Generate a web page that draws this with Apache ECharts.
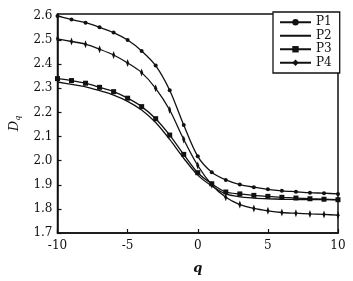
<!DOCTYPE html>
<html><head><meta charset="utf-8">
<script src="https://cdn.jsdelivr.net/npm/echarts@6/dist/echarts.min.js"></script>
<style>html,body{margin:0;padding:0;background:#fff}#c{width:353px;height:281px}</style>
</head><body><div id="c"></div>
<script>
const qValues = [-10,-9,-8,-7,-6,-5,-4,-3,-2,-1,0,1,2,3,4,5,6,7,8,9,10];
const P1 = [2.600,2.585,2.572,2.553,2.531,2.500,2.455,2.394,2.292,2.148,2.018,1.952,1.920,1.901,1.890,1.881,1.875,1.871,1.867,1.865,1.862];
const P2 = [2.326,2.316,2.306,2.290,2.272,2.246,2.210,2.158,2.088,2.010,1.940,1.895,1.862,1.850,1.845,1.842,1.840,1.839,1.838,1.838,1.837];
const P3 = [2.340,2.332,2.321,2.304,2.286,2.259,2.224,2.174,2.106,2.026,1.950,1.904,1.870,1.862,1.856,1.852,1.848,1.845,1.842,1.840,1.838];
const P4 = [2.505,2.494,2.483,2.462,2.438,2.405,2.365,2.300,2.210,2.088,1.980,1.900,1.848,1.818,1.802,1.792,1.785,1.782,1.779,1.777,1.774];
const seriesNames = ['P1','P2','P3','P4'];
const xTicks = [-10,-5,0,5,10];

const FONT = 'DejaVu Serif';
const pairs = arr => qValues.map((q,i)=>[q,arr[i]]);
const base = {type:'line', smooth:0.3, lineStyle:{color:'#111', width:1.3}, itemStyle:{color:'#111'}};
const chart = echarts.init(document.getElementById('c'), null, {renderer:'canvas'});
chart.setOption({
  animation:false,
  backgroundColor:'#fff',
  grid:{left:57, right:15, top:14, bottom:48, show:true, borderColor:'#111', borderWidth:1.5, backgroundColor:'transparent'},
  legend:{
    left:273, top:12, orient:'vertical',
    padding:[3.5,8,3.5,6], itemGap:0, itemWidth:31, itemHeight:8,
    borderColor:'#111', borderWidth:1.3, backgroundColor:'#fff',
    textStyle:{fontFamily:FONT, fontSize:12, color:'#111', lineHeight:13.5},
    data:seriesNames.map(n => n === 'P2' ? {name:n, itemStyle:{color:'transparent', borderWidth:0, opacity:0}} : {name:n})
  },
  xAxis:{
    type:'value', min:-10, max:10, interval:5,
    name:'q', nameLocation:'middle', nameGap:29,
    nameTextStyle:{fontFamily:FONT, fontSize:13, fontStyle:'italic', fontWeight:'bold', color:'#111'},
    axisLine:{onZero:false, lineStyle:{color:'#111', width:1.5}},
    axisTick:{inside:true, length:4, lineStyle:{color:'#111', width:1.2}},
    axisLabel:{fontFamily:FONT, fontSize:12, color:'#111', margin:7, formatter:v=>xTicks.includes(v)?String(v):''},
    splitLine:{show:false}
  },
  yAxis:{
    type:'value', min:1.7, max:2.608, interval:0.1,
    name:'{d|D}{s|q}', nameLocation:'middle', nameGap:36, nameRotate:90,
    nameTextStyle:{rich:{
      d:{fontFamily:FONT, fontSize:13, fontStyle:'italic', color:'#111'},
      s:{fontFamily:FONT, fontSize:8, fontStyle:'italic', color:'#111', verticalAlign:'bottom', padding:[6,0,0,0]}
    }},
    axisLine:{onZero:false, lineStyle:{color:'#111', width:1.5}},
    axisTick:{inside:true, length:4, lineStyle:{color:'#111', width:1.2}},
    axisLabel:{fontFamily:FONT, fontSize:12, color:'#111', margin:5, showMaxLabel:false, formatter:v=>v.toFixed(1)},
    splitLine:{show:false}
  },
  series:[
    Object.assign({}, base, {name:'P1', data:pairs(P1), symbol:'circle', symbolSize:4}),
    Object.assign({}, base, {name:'P2', data:pairs(P2), symbol:'none'}),
    Object.assign({}, base, {name:'P3', data:pairs(P3), symbol:'rect', symbolSize:5}),
    Object.assign({}, base, {name:'P4', data:pairs(P4), symbol:'diamond', symbolSize:[3,8]})
  ]
});
</script></body></html>
